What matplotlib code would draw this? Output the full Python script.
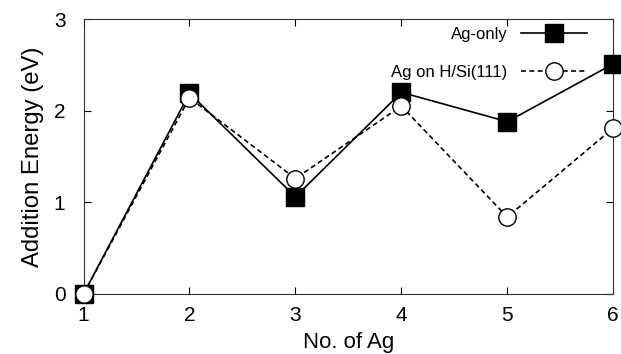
import matplotlib
matplotlib.use("Agg")
import matplotlib.pyplot as plt

n_ag = [1, 2, 3, 4, 5, 6]
ag_only = [0.0, 2.19, 1.06, 2.20, 1.88, 2.51]
ag_on_hsi = [0.0, 2.14, 1.26, 2.05, 0.84, 1.81]
xticks = [1, 2, 3, 4, 5, 6]
yticks = [0, 1, 2, 3]

plt.rcParams['font.family'] = ['Liberation Sans', 'DejaVu Sans']

fig = plt.figure(figsize=(6.21, 3.54), dpi=100)
ax = fig.add_axes([0.1345, 0.1695, 0.853, 0.7768])

ax.plot(n_ag, ag_only, color='black', lw=1.2, ls='-', marker='s', ms=12.5,
        mfc='black', mec='black', label='Ag-only', zorder=3)
ax.plot(n_ag, ag_on_hsi, color='black', lw=1.2, ls=(0, (3, 2)), marker='o', ms=12.5,
        mfc='white', mec='black', mew=1.0, label='Ag on H/Si(111)', zorder=4)

ax.set_xlim(1, 6)
ax.set_ylim(0, 3)
ax.set_xticks(xticks)
ax.set_yticks(yticks)
ax.tick_params(direction='in', top=True, right=True, length=5, width=0.8,
               labelsize=15)
ax.tick_params(axis='x', pad=9)
ax.tick_params(axis='y', pad=13)
for s in ax.spines.values():
    s.set_linewidth(0.8)
    s.set_color('#333333')

ax.set_xlabel('No. of Ag', fontsize=16, labelpad=5)
ax.set_ylabel('Addition Energy (eV)', fontsize=17.2, labelpad=7)

ax.legend(loc='upper right', frameon=False, markerfirst=False, fontsize=12,
          handlelength=4.0, handletextpad=0.8, labelspacing=1.4,
          borderpad=0, borderaxespad=0,
          bbox_to_anchor=(0.951, 0.971))

for lab in ax.get_xticklabels() + ax.get_yticklabels():
    lab.set_clip_on(False)
for ln in ax.lines:
    ln.set_clip_on(False)

fig.savefig('out.png', dpi=100)
